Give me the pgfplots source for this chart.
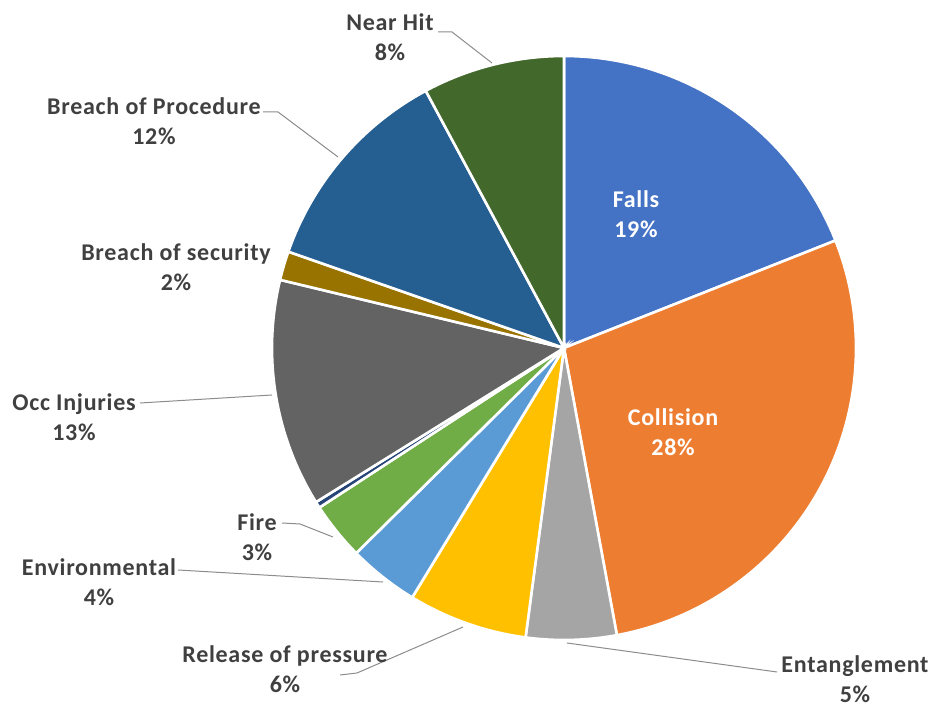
\documentclass[border=0pt]{standalone}
\usepackage{pgfplots}
\pgfplotsset{compat=1.18}
\usepackage{fontspec}
\setmainfont{Carlito}[LetterSpace=3.0]
\definecolor{cFalls}{HTML}{4472C4}
\definecolor{cCollision}{HTML}{ED7D31}
\definecolor{cEntang}{HTML}{A5A5A5}
\definecolor{cRelease}{HTML}{FFC000}
\definecolor{cEnv}{HTML}{5B9BD5}
\definecolor{cFire}{HTML}{70AD47}
\definecolor{cTiny}{HTML}{264478}
\definecolor{cOcc}{HTML}{636363}
\definecolor{cSec}{HTML}{997300}
\definecolor{cProc}{HTML}{255E91}
\definecolor{cNear}{HTML}{43682B}
\definecolor{lab}{HTML}{404040}
\definecolor{lead}{HTML}{8C8C8C}
% one pie slice: colour, share in percent (clockwise from 12 o'clock)
\newcommand\slice[2]{%
  \pgfmathsetmacro\endA{\startA-3.6*#2}%
  \edef\tmp{\noexpand\addplot[fill=#1, draw=white, line width=1.3pt, data cs=polar,
     domain=\endA:\startA, samples=120] ({x},{292}) -- (axis cs:0,0) -- cycle;}%
  \tmp
  \global\let\startA\endA}
\tikzset{lbl/.style={align=center, inner sep=0pt, text=lab, font=\bfseries\fontsize{12}{15}\selectfont},
         ilbl/.style={align=center, inner sep=0pt, text=white, font=\bfseries\fontsize{12}{15}\selectfont},
         ld/.style={draw=lead, line width=0.5pt}}
\begin{document}
\begin{tikzpicture}
\begin{axis}[name=ax, x=0.5pt, y=0.5pt, scale only axis,
  xmin=-564, xmax=370, ymin=-359, ymax=348, hide axis, clip=false]
\gdef\startA{90}
\slice{cFalls}{19.0}
\slice{cCollision}{28.1}
\slice{cEntang}{5.0}
\slice{cRelease}{6.6}
\slice{cEnv}{3.9}
\slice{cFire}{3.2}
\slice{cTiny}{0.35}
\slice{cOcc}{12.6}
\slice{cSec}{1.6}
\slice{cProc}{11.8}
\slice{cNear}{7.85}
% leader lines
\draw[ld] (axis cs:-126,316) -- (axis cs:-112,316) -- (axis cs:-72,285);
\draw[ld] (axis cs:-301,236) -- (axis cs:-286,236) -- (axis cs:-226,191);
\draw[ld] (axis cs:-424,-55) -- (axis cs:-292,-47);
\draw[ld] (axis cs:-282,-175) -- (axis cs:-264,-176) -- (axis cs:-231,-189);
\draw[ld] (axis cs:-386,-222) -- (axis cs:-181,-234);
\draw[ld] (axis cs:-224,-327) -- (axis cs:-207,-325) -- (axis cs:-101,-279);
\draw[ld] (axis cs:3,-295) -- (axis cs:213,-324);
% labels
\node[lbl] at (axis cs:-174,311) {Near Hit\\8\%};
\node[lbl] at (axis cs:-410,227) {Breach of Procedure\\12\%};
\node[lbl] at (axis cs:-388,81) {Breach of security\\2\%};
\node[lbl] at (axis cs:-490,-69) {Occ Injuries\\13\%};
\node[lbl] at (axis cs:-307,-189) {Fire\\3\%};
\node[lbl] at (axis cs:-465,-234) {Environmental\\4\%};
\node[lbl] at (axis cs:-279,-321) {Release of pressure\\6\%};
\node[lbl] at (axis cs:291,-331) {Entanglement\\5\%};
\node[ilbl] at (axis cs:72,134) {Falls\\19\%};
\node[ilbl] at (axis cs:109,-84) {Collision\\28\%};
\end{axis}
\pgfresetboundingbox
\path (ax.south west) rectangle (ax.north east);
\end{tikzpicture}
\end{document}
